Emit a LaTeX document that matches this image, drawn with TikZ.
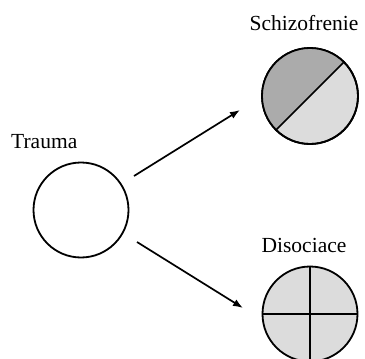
\documentclass[tikz,border=0pt]{standalone}
\usepackage{fontspec}
\setmainfont{Liberation Serif}
\usetikzlibrary{arrows.meta}
\definecolor{darkfill}{HTML}{ABABAB}
\definecolor{lightfill}{HTML}{DCDCDC}
\begin{document}
\begin{tikzpicture}[x=1pt,y=-1pt,
  ring/.style={circle,draw=black,line width=1.8pt,minimum size=95pt,inner sep=0pt},
  lbl/.style={font=\fontsize{21.5}{24}\selectfont,inner sep=0pt},
  arr/.style={line width=1.7pt,-{Latex[length=10pt,width=7.5pt]}}]
\useasboundingbox (0,0) rectangle (365,359);
% Trauma
\node[ring] (trauma) at (81,210) {};
\node[lbl,anchor=west] (tlabel) at (11,142) {Trauma};
% Schizofrenie
\node[ring,minimum size=96pt,fill=lightfill] (schizo) at (310,96) {};
\fill[darkfill] (schizo.center) ++(225:48pt) arc[start angle=225,end angle=45,radius=48pt] -- cycle;
\node[ring,minimum size=96pt] (schizoring) at (310,96) {};
\draw[line width=1.6pt] (schizo.45) -- (schizo.225);
\node[lbl] (slabel) at (304,23) {Schizofrenie};
% Disociace
\node[ring,fill=lightfill,minimum size=95pt] (diso) at (310,314) {};
\draw[line width=1.6pt] (diso.north) -- (diso.south);
\draw[line width=1.6pt] (diso.west) -- (diso.east);
\node[lbl] (dlabel) at (304,245) {Disociace};
% arrows
\coordinate (a1s) at (134,176);
\coordinate (a1e) at (240,110);
\coordinate (a2s) at (137,242);
\coordinate (a2e) at (243,308);
\draw[arr] (a1s) -- (a1e);
\draw[arr] (a2s) -- (a2e);
\end{tikzpicture}
\end{document}
